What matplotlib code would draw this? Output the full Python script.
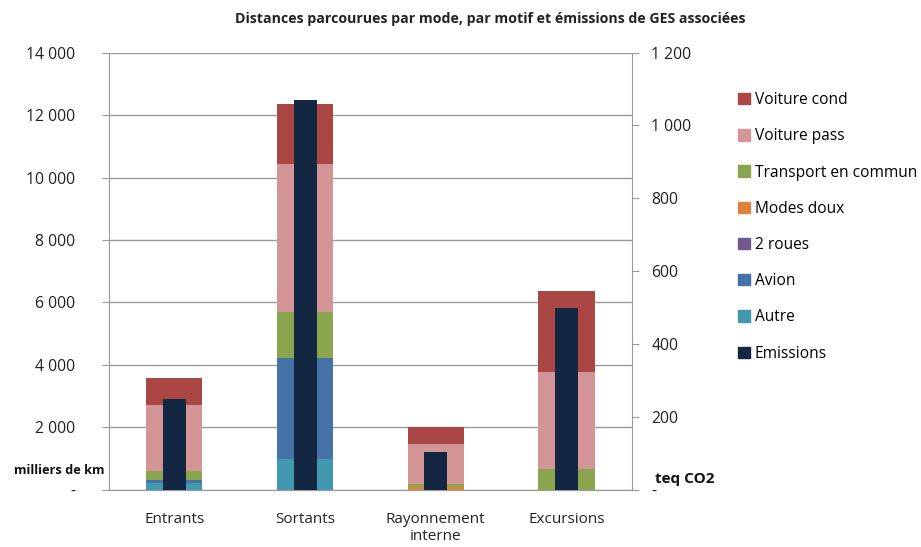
import numpy as np
import matplotlib
matplotlib.use("Agg")
import matplotlib.pyplot as plt
from matplotlib.patches import Patch
from matplotlib.ticker import FuncFormatter

plt.rcParams['font.family'] = ['Open Sans', 'DejaVu Sans']

categories = ['Entrants', 'Sortants', 'Rayonnement\ninterne', 'Excursions']
# milliers de km, empiles de bas en haut
autre = [220, 980, 0, 0]
avion = [90, 3235, 0, 0]
deux_roues = [0, 0, 0, 0]
modes_doux = [0, 0, 80, 0]
transport_commun = [290, 1475, 105, 655]
voiture_pass = [2110, 4745, 1270, 3110]
voiture_cond = [865, 1920, 545, 2600]
# teq CO2
emissions = [249, 1070, 103, 500]

series = [
    ('Autre', autre, '#4198AF'),
    ('Avion', avion, '#4572A7'),
    ('2 roues', deux_roues, '#71588F'),
    ('Modes doux', modes_doux, '#DB843D'),
    ('Transport en commun', transport_commun, '#8BA54E'),
    ('Voiture pass', voiture_pass, '#D39595'),
    ('Voiture cond', voiture_cond, '#AA4643'),
]
em_color = '#132743'

fig = plt.figure(figsize=(9.21, 5.47), dpi=100)
ax = fig.add_axes([0.1183, 0.105, 0.5677, 0.7987])
ax2 = ax.twinx()

x = np.arange(len(categories))
bottom = np.zeros(len(categories))
for name, vals, col in series:
    ax.bar(x, vals, width=0.43, bottom=bottom, color=col, zorder=2)
    bottom += np.array(vals)

ax2.bar(x, emissions, width=0.176, color=em_color, zorder=3)

ax.set_xlim(-0.5, 3.5)
ax.set_ylim(0, 14000)
ax2.set_ylim(0, 1200)
ax.set_yticks(np.arange(0, 14001, 2000))
ax2.set_yticks(np.arange(0, 1201, 200))

def fmt(v, pos):
    if v == 0:
        return '-'
    return '{:,.0f}'.format(v).replace(',', ' ')

ax.yaxis.set_major_formatter(FuncFormatter(fmt))
ax2.yaxis.set_major_formatter(FuncFormatter(fmt))

ax.yaxis.grid(True, color='#9a9a9a', linewidth=1, zorder=0)
ax.set_axisbelow(True)
ax.set_xticks(x)
ax.set_xticklabels(categories, fontsize=11, color='#222222')
ax.tick_params(axis='x', length=0, pad=16)
ax.tick_params(axis='y', labelsize=11.3, colors='#222222', length=5, color='#9a9a9a', pad=19)
ax2.tick_params(axis='y', labelsize=11.3, colors='#222222', length=5, color='#9a9a9a', pad=9)
for a in (ax, ax2):
    a.spines['top'].set_visible(False)
    a.spines['left'].set_color('#9a9a9a')
    a.spines['right'].set_color('#9a9a9a')
    a.spines['bottom'].set_color('#9a9a9a')
ax2.spines['left'].set_visible(False)
ax.spines['right'].set_visible(False)

fig.text(0.532, 0.966, 'Distances parcourues par mode, par motif et émissions de GES associées',
         ha='center', va='center', fontsize=10.2, fontweight='bold', color='#222222')
fig.text(0.064, 0.14, 'milliers de km', ha='center', va='center', fontsize=9.2, fontweight='bold', color='#111111')
fig.text(0.743, 0.125, 'teq CO2', ha='center', va='center', fontsize=11, fontweight='bold', color='#111111')

handles = [Patch(color=col, label=name) for name, vals, col in reversed(series)]
handles.append(Patch(color=em_color, label='Emissions'))
fig.legend(handles=handles, loc='upper left', bbox_to_anchor=(0.795, 0.843), frameon=False,
           fontsize=11.2, labelspacing=1.3, handlelength=0.75, handleheight=0.75,
           handletextpad=0.3, borderaxespad=0)

fig.savefig('out.png', dpi=100)
